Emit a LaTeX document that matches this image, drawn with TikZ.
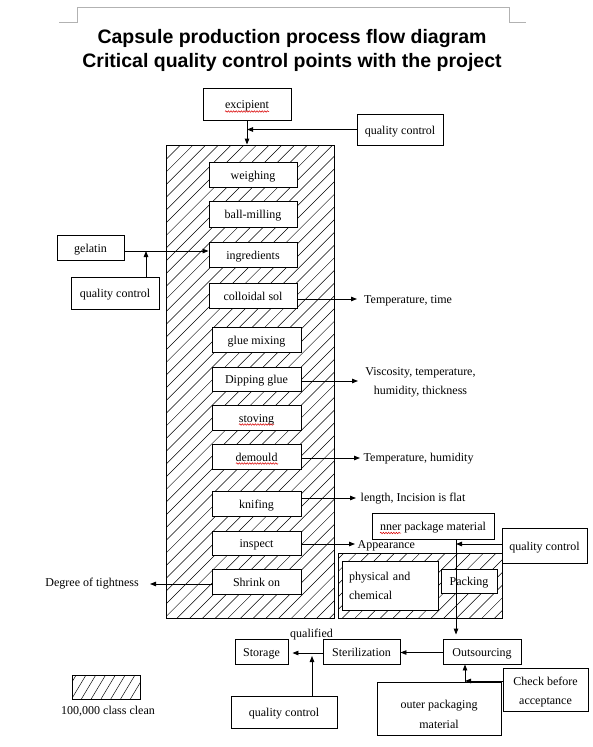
\documentclass[tikz,border=0pt]{standalone}
\usepackage{fontspec}
\setmainfont{Liberation Serif}
\newfontfamily\titlefont{Liberation Sans}
\usetikzlibrary{arrows.meta,decorations.pathmorphing}
\begin{document}
\begin{tikzpicture}[x=1pt,y=-1pt,
  box/.style={draw,line width=0.9pt,fill=white,inner sep=0pt,text height=10pt,text depth=0.6pt,font=\fontsize{12}{19}\selectfont},
  mbox/.style={draw,line width=0.9pt,fill=white,inner sep=0pt,font=\fontsize{12}{19}\selectfont},
  lbl/.style={inner sep=0pt,text height=9pt,text depth=1.5pt,font=\fontsize{12}{19}\selectfont},
  arr/.style={line width=0.9pt,-{Triangle[length=6pt,width=4.5pt]}},
  frame/.style={draw,line width=0.9pt,inner sep=0pt},
  hl/.style={line width=0.5pt},
  sq/.style={red!85!black,line width=0.5pt,decorate,decoration={snake,amplitude=0.8pt,segment length=2.6pt}},
  crop/.style={gray!60,line width=0.6pt}]
\useasboundingbox[fill=white] (0,0) rectangle (592,747);

% page crop marks
\draw[crop] (59,22) -- (77,22) -- (77,7) -- (509,7) -- (509,22) -- (526,22);

% titles
\node[anchor=base,inner sep=0pt,font=\titlefont\bfseries\fontsize{19.5}{22}\selectfont] (title1) at (292,43) {Capsule production process flow diagram};
\node[anchor=base,inner sep=0pt,font=\titlefont\bfseries\fontsize{19.5}{22}\selectfont] (title2) at (292,67.5) {Critical quality control points with the project};

% hatching of clean areas
\begin{scope}
  \clip (166,145) rectangle (334,618);
  \foreach \c in {300,312.7,...,1140} \draw[hl] (\c,0) -- (\c-800,800);
\end{scope}
\begin{scope}
  \clip (338,553) rectangle (502,618);
  \foreach \c in {300,312.7,...,1140} \draw[hl] (\c,0) -- (\c-800,800);
\end{scope}
\begin{scope}
  \clip (72,675) rectangle (140,699);
  \foreach \x in {52,61.8,...,150} \draw[hl] (\x,699) -- (\x+14.4,675);
\end{scope}
\node[frame,minimum width=168pt,minimum height=473pt] (clean1) at (250,381.5) {};
\node[frame,minimum width=164pt,minimum height=65pt] (clean2) at (420,585.5) {};
\node[frame,minimum width=68pt,minimum height=24pt] (legend) at (106,687) {};
\node[lbl] (legendtxt) at (108,710.5) {100,000 class clean};

% top
\node[box,minimum width=88pt,minimum height=32pt] (exc) at (247,104) {excipient};
\node[box,minimum width=86pt,minimum height=31pt] (qc1) at (400,129.5) {quality control};
\draw[arr] (exc.south) -- (exc.south |- clean1.north);
\draw[arr] (qc1.west) -- (qc1.west -| exc.south);

% process steps
\node[box,minimum width=88pt,minimum height=25pt] (weigh) at (253,174.5) {weighing};
\node[box,minimum width=88pt,minimum height=26pt] (ball) at (253,214) {ball-milling};
\node[box,minimum width=88pt,minimum height=25pt] (ingr) at (253,254.5) {ingredients};
\node[box,minimum width=88pt,minimum height=25pt] (coll) at (253,295.5) {colloidal sol};
\node[box,minimum width=89pt,minimum height=25pt] (glue) at (256.5,339.5) {glue mixing};
\node[box,minimum width=89pt,minimum height=24pt] (dip) at (256.5,379) {Dipping glue};
\node[box,minimum width=89pt,minimum height=25pt] (stov) at (256.5,417.5) {stoving};
\node[box,minimum width=89pt,minimum height=25pt] (demo) at (256.5,456.5) {demould};
\node[box,minimum width=89pt,minimum height=25pt] (knif) at (256.5,503.5) {knifing};
\node[box,minimum width=89pt,minimum height=24pt] (insp) at (256.5,543) {inspect};
\node[box,minimum width=89pt,minimum height=25pt] (shrk) at (256.5,581.5) {Shrink on};

% left side
\node[box,minimum width=67pt,minimum height=25pt] (gel) at (90.5,247.5) {gelatin};
\node[box,minimum width=88pt,minimum height=32pt] (qc2) at (115,293) {quality control};
\coordinate (gj) at (146,251);
\draw[arr] (gel.east |- gj) -- (ingr.west |- gj);
\draw[arr] (qc2.north -| gj) -- (gj);

% right side parameters
\coordinate (e1) at (357,299);
\coordinate (e2) at (358,381);
\coordinate (e3) at (360,458);
\coordinate (e4) at (356,498);
\coordinate (e5) at (355,544);
\coordinate (e6) at (150,584);
\draw[arr] (coll.east |- e1) -- (e1);
\draw[arr] (dip.east |- e2) -- (e2);
\draw[arr] (demo.east |- e3) -- (e3);
\draw[arr] (knif.east |- e4) -- (e4);
\draw[arr] (insp.east |- e5) -- (e5);
\draw[arr] (shrk.west |- e6) -- (e6);
\node[lbl,anchor=west] (p1) at (364,299.5) {Temperature, time};
\node[inner sep=0pt,align=center,font=\fontsize{12}{19}\selectfont] (p2) at (420.5,382.5) {Viscosity, temperature,\\humidity, thickness};
\node[lbl,anchor=west] (p3) at (363.5,458) {Temperature, humidity};
\node[lbl,anchor=west] (p4) at (360.5,498) {length, Incision is flat};
\node[lbl,anchor=west] (p5) at (357.5,544.5) {Appearance};
\node[lbl,anchor=east] (p6) at (139,583) {Degree of tightness};

% packaging
\node[box,minimum width=122pt,minimum height=26pt] (inner) at (433,526) {nner package material};
\node[box,minimum width=85pt,minimum height=35pt] (qc3) at (544.5,545.5) {quality control};
\node[mbox,minimum width=96pt,minimum height=49pt,text width=82pt,inner xsep=7pt,align=left] (phys) at (390,585.5) {physical and\\chemical};
\node[box,minimum width=56pt,minimum height=24pt] (pack) at (469,581) {Packing};

% bottom row
\node[box,minimum width=53pt,minimum height=25pt] (stor) at (261.5,651.5) {Storage};
\node[box,minimum width=77pt,minimum height=25pt] (ster) at (361.5,651.5) {Sterilization};
\node[box,minimum width=78pt,minimum height=25pt] (outs) at (482,651.5) {Outsourcing};
\node[lbl] (qual) at (311.5,633.5) {qualified};
\node[box,minimum width=106pt,minimum height=32pt] (qc4) at (284,712) {quality control};
\node[mbox,minimum width=124pt,minimum height=53pt] (outer) at (439,708.5) {};
\node[inner sep=0pt,align=center,font=\fontsize{12}{20.5}\selectfont] (outertxt) at (439,714.5) {outer packaging\\material};
\node[mbox,minimum width=85pt,minimum height=43pt] (check) at (545.5,689.5) {};
\node[inner sep=0pt,align=center,font=\fontsize{12}{19}\selectfont] (checktxt) at (545.5,692.5) {Check before\\acceptance};

% packaging connectors
\coordinate (v1) at (456,544);
\draw[line width=0.9pt] (inner.south -| v1) -- (pack.north -| v1);
\draw[arr,shorten >=4pt] (pack.north -| v1) -- (outs.north -| v1);
\draw[arr] (qc3.west |- v1) -- (v1);

% bottom connectors
\coordinate (qj) at (312,656);
\coordinate (oj) at (465,681);
\draw[arr,shorten >=4pt] (ster.west |- 0,653) -- (stor.east |- 0,653);
\draw[arr] (outs.west |- 0,652.5) -- (ster.east |- 0,652.5);
\draw[arr] (qc4.north -| qj) -- (qj);
\draw[arr] (outer.north -| oj) -- (outs.south -| oj);
\draw[arr] (check.west |- oj) -- (oj);

% spell-check squiggles
\draw[sq] (225,111.5) -- (269,111.5);
\draw[sq] (239,424.5) -- (274,424.5);
\draw[sq] (236,463.5) -- (278,463.5);
\draw[sq] (380,533) -- (401,533);
\end{tikzpicture}
\end{document}
